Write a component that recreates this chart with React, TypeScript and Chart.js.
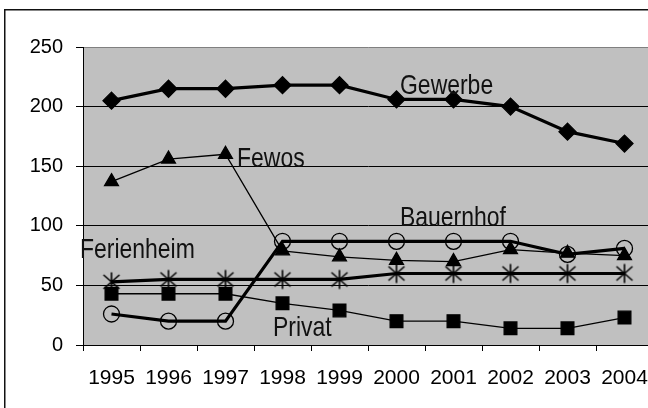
import React, { useEffect, useRef } from 'react';
import { Chart, registerables } from 'chart.js';
Chart.register(...registerables);

const years = ['1995', '1996', '1997', '1998', '1999', '2000', '2001', '2002', '2003', '2004'];
const gewerbe = [205, 215, 215, 218, 218, 206, 206, 200, 179, 169];
const fewos = [137, 156, 160, 79, 74, 71, 70, 80, 77, 75];
const bauernhof = [26, 20, 20, 87, 87, 87, 87, 87, 76, 81];
const ferienheim = [53, 55, 55, 55, 55, 60, 60, 60, 60, 60];
const privat = [43, 43, 43, 35, 29, 20, 20, 14, 14, 23];
const yTicks = [0, 50, 100, 150, 200, 250];

const FONT = "'Liberation Sans', Arial, sans-serif";

const labels = [
  { text: 'Gewerbe', x: 400, y: 94 },
  { text: 'Fewos', x: 237, y: 167 },
  { text: 'Bauernhof', x: 400, y: 226 },
  { text: 'Ferienheim', x: 80, y: 258 },
  { text: 'Privat', x: 273, y: 336 },
];

export default function App() {
  const ref = useRef<HTMLCanvasElement>(null);
  useEffect(() => {
    const star = document.createElement('canvas');
    star.width = 22;
    star.height = 22;
    const sc = star.getContext('2d')!;
    sc.strokeStyle = '#000';
    sc.lineWidth = 1.6;
    sc.beginPath();
    sc.moveTo(11, 1.5); sc.lineTo(11, 20.5);
    sc.moveTo(3, 4); sc.lineTo(19, 18);
    sc.moveTo(19, 4); sc.lineTo(3, 18);
    sc.stroke();

    const bgPlugin = {
      id: 'bg',
      beforeDraw(chart: any) {
        const { ctx, chartArea } = chart;
        ctx.save();
        ctx.fillStyle = '#c0c0c0';
        ctx.fillRect(chartArea.left, chartArea.top, chartArea.right - chartArea.left, chartArea.bottom - chartArea.top);
        ctx.strokeStyle = '#111';
        ctx.lineWidth = 1.5;
        ctx.strokeRect(4.75, 9.75, 700, 500);
        ctx.restore();
      },
      afterDatasetsDraw(chart: any) {
        const { ctx } = chart;
        ctx.save();
        ctx.fillStyle = '#111';
        ctx.font = `28px ${FONT}`;
        ctx.textBaseline = 'alphabetic';
        ctx.textAlign = 'left';
        for (const l of labels) {
          ctx.save();
          ctx.translate(l.x, l.y);
          ctx.scale(0.82, 1);
          ctx.fillText(l.text, 0, 0);
          ctx.restore();
        }
        ctx.restore();
      },
    };

    const mk = (label: string, data: number[], style: any, radius: number, width: number, fill: string, order: number) => ({
      label,
      data,
      borderColor: '#000',
      borderWidth: width,
      pointStyle: style,
      pointRadius: radius,
      pointBackgroundColor: fill,
      pointBorderColor: '#000',
      pointBorderWidth: 1.3,
      backgroundColor: fill,
      tension: 0,
      fill: false,
      order,
    });

    const chart = new Chart(ref.current!, {
      type: 'line',
      data: {
        labels: years,
        datasets: [
          mk('Gewerbe', gewerbe, 'rectRot', 8.5, 3.2, '#000', 5),
          mk('Fewos', fewos, 'triangle', 8, 1.3, '#000', 4),
          mk('Bauernhof', bauernhof, 'circle', 8, 3.2, 'rgba(0,0,0,0)', 3),
          mk('Ferienheim', ferienheim, star, 9, 3.2, '#000', 2),
          mk('Privat', privat, 'rect', 9, 1.3, '#000', 1),
        ],
      },
      options: {
        responsive: false,
        animation: false,
        devicePixelRatio: 1,
        layout: { padding: { top: 47, right: 11, left: 0, bottom: 0 } },
        plugins: { legend: { display: false }, tooltip: { enabled: false } },
        scales: {
          x: {
            type: 'category',
            offset: true,
            grid: { display: true, offset: true, drawOnChartArea: false, drawTicks: true, tickLength: 6, tickColor: '#000', color: '#000' },
            border: { display: true, color: '#000', width: 1 },
            ticks: { color: '#000', font: { family: FONT, size: 21 }, padding: 15, maxRotation: 0, autoSkip: false },
            afterFit(s: any) { s.height = 75; },
          },
          y: {
            min: 0,
            max: 250,
            afterBuildTicks(s: any) { s.ticks = yTicks.map((v) => ({ value: v })); },
            grid: {
              color: (c: any) => (c.tick && c.tick.value === 250 ? '#808080' : '#000'),
              tickColor: '#000',
              tickLength: 7,
              lineWidth: 1,
            },
            border: { display: true, color: '#000', width: 1 },
            ticks: { color: '#000', font: { family: FONT, size: 20 }, padding: 13 },
            afterFit(s: any) { s.width = 83; },
          },
        },
      },
      plugins: [bgPlugin],
    } as any);
    return () => chart.destroy();
  }, []);
  return (
    <div style={{ position: 'fixed', left: 0, top: 0, width: 648, height: 408, overflow: 'hidden', background: '#fff' }}>
      <canvas ref={ref} width={664} height={420} style={{ display: 'block' }} />
    </div>
  );
}
